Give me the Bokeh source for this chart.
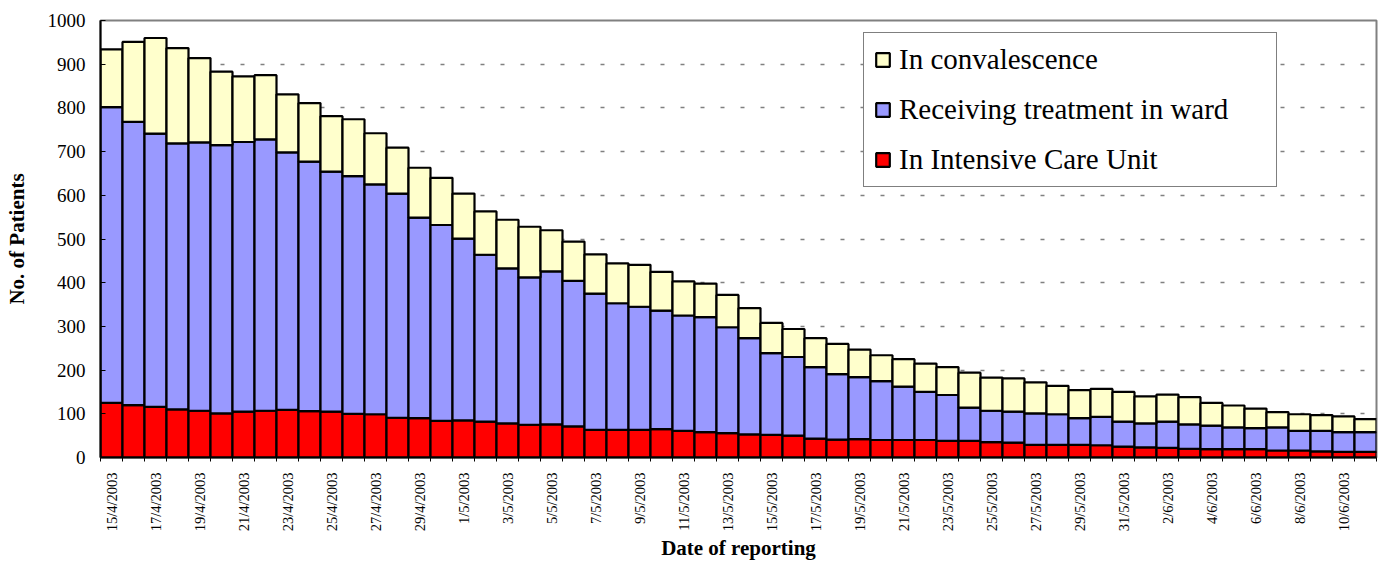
import math
from bokeh.plotting import figure
from bokeh.models import ColumnDataSource, FixedTicker, Legend, LegendItem, Range1d
from bokeh.embed import file_html
from bokeh.resources import INLINE

dates = ([f"{d}/4/2003" for d in range(15, 31)]
         + [f"{d}/5/2003" for d in range(1, 32)]
         + [f"{d}/6/2003" for d in range(1, 12)])

icu = [125, 120, 116, 110, 107, 101, 105, 107, 109, 106,
       105, 100, 99, 91, 90, 84, 85, 82, 78, 75,
       76, 71, 63, 63, 63, 65, 61, 58, 56, 53,
       52, 50, 43, 41, 42, 40, 40, 40, 38, 38,
       35, 34, 29, 29, 29, 28, 25, 23, 22, 20,
       19, 19, 19, 16, 16, 14, 13, 13]

ward = [677, 648, 625, 609, 614, 614, 617, 621, 589, 571,
        549, 544, 526, 513, 459, 448, 416, 382, 355, 337,
        350, 333, 312, 290, 282, 271, 264, 263, 242, 220,
        187, 180, 164, 150, 142, 135, 122, 110, 105, 76,
        72, 71, 72, 70, 61, 65, 57, 55, 60, 56,
        54, 50, 48, 53, 45, 47, 45, 45]

convalescence = [132, 183, 219, 218, 193, 168, 150, 147, 133, 134,
                 127, 130, 117, 105, 114, 108, 103, 99, 111, 116,
                 94, 90, 90, 91, 96, 89, 78, 77, 74, 69,
                 69, 64, 66, 69, 63, 59, 63, 65, 64, 80,
                 76, 76, 71, 65, 64, 64, 68, 62, 62, 62,
                 52, 50, 45, 35, 38, 36, 36, 30]

series_names = ["In Intensive Care Unit", "Receiving treatment in ward", "In convalescence"]
colors = ["#FF0000", "#9999FF", "#FFFFCC"]
y_ticks = list(range(0, 1001, 100))

SERIF = "Liberation Serif"

x = list(range(1, len(dates) + 1))
src = ColumnDataSource(dict(x=x, icu=icu, ward=ward, conv=convalescence))

p = figure(width=1378, height=563,
           x_range=Range1d(0.5, len(dates) + 0.5), y_range=Range1d(0, 1000),
           output_backend="svg", toolbar_location=None,
           min_border_left=100, min_border_right=2, min_border_top=20, min_border_bottom=106)

rs = p.vbar_stack(["icu", "ward", "conv"], x="x", width=1.0, source=src,
                  fill_color=colors, line_color="black", line_width=2.2)

# x axis
p.xaxis.ticker = FixedTicker(ticks=x[::2], minor_ticks=[i + 0.5 for i in range(0, len(dates) + 1)])
p.xaxis.major_label_overrides = {i: dates[i - 1] for i in x[::2]}
p.xaxis.major_label_orientation = math.pi / 2
p.xaxis.major_label_text_font = SERIF
p.xaxis.major_label_text_font_size = "14.5px"
p.xaxis.major_label_text_color = "black"
p.xaxis.major_label_standoff = 11
p.xaxis.major_tick_in = 0
p.xaxis.major_tick_out = 0
p.xaxis.minor_tick_in = 0
p.xaxis.minor_tick_out = 4
p.xaxis.minor_tick_line_color = "black"
p.xaxis.axis_line_color = "black"
p.xaxis.axis_line_width = 2
p.xaxis.axis_label = "Date of reporting"
p.xaxis.axis_label_text_font = SERIF
p.xaxis.axis_label_text_font_size = "21px"
p.xaxis.axis_label_text_font_style = "bold"
p.xaxis.axis_label_text_color = "black"
p.xaxis.axis_label_standoff = 2

# y axis
p.yaxis.ticker = FixedTicker(ticks=y_ticks)
p.yaxis.major_label_text_font = SERIF
p.yaxis.major_label_text_font_size = "19px"
p.yaxis.major_label_text_color = "black"
p.yaxis.major_label_standoff = 15
p.yaxis.major_tick_in = 5
p.yaxis.major_tick_out = 0
p.yaxis.major_tick_line_color = "black"
p.yaxis.minor_tick_line_color = None
p.yaxis.axis_line_color = "black"
p.yaxis.axis_line_width = 2
p.yaxis.axis_label = "No. of Patients"
p.yaxis.axis_label_text_font = SERIF
p.yaxis.axis_label_text_font_size = "21px"
p.yaxis.axis_label_text_font_style = "bold"
p.yaxis.axis_label_text_color = "black"
p.yaxis.axis_label_standoff = 16

p.xgrid.visible = False
p.ygrid.grid_line_color = "#808080"
p.ygrid.grid_line_dash = "4 16"
p.ygrid.grid_line_width = 1.5

p.outline_line_color = "#808080"
p.outline_line_width = 2

legend = Legend(items=[LegendItem(label=series_names[2], renderers=[rs[2]]),
                       LegendItem(label=series_names[1], renderers=[rs[1]]),
                       LegendItem(label=series_names[0], renderers=[rs[0]])],
                location=(763, 270),
                label_text_font=SERIF, label_text_font_size="29px",
                label_text_color="black",
                glyph_width=17, glyph_height=17, label_standoff=8,
                spacing=17, padding=10, label_width=367,
                border_line_color="black", border_line_width=1,
                background_fill_color="white", background_fill_alpha=1)
p.add_layout(legend)

open("out.html", "w").write(file_html(p, INLINE))
